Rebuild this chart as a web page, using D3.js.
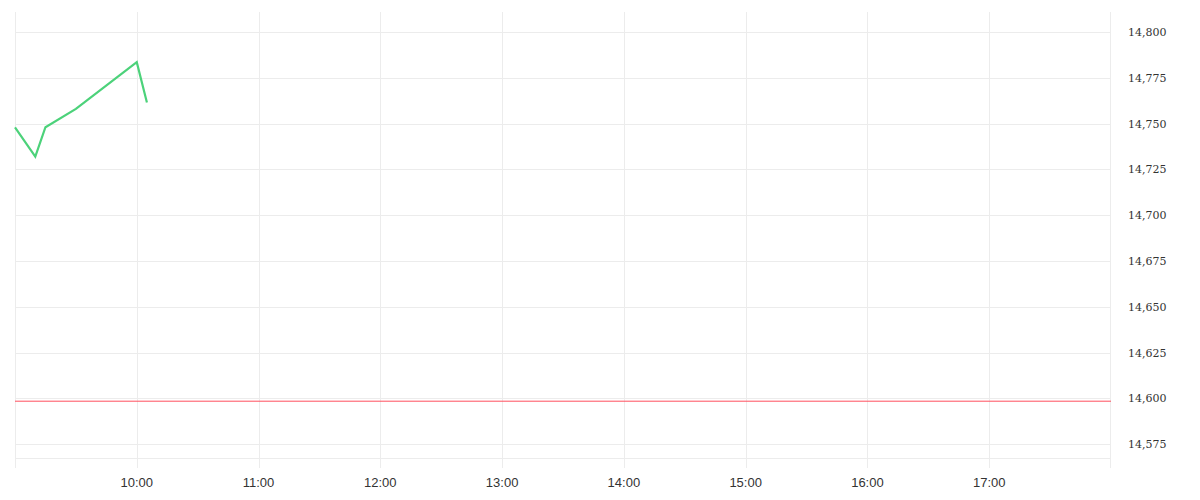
<!DOCTYPE html>
<html>
<head>
<meta charset="utf-8">
<script src="https://cdn.jsdelivr.net/npm/d3@7"></script>
<style>
  html, body { margin: 0; padding: 0; background: #fff; }
  svg { display: block; }
</style>
</head>
<body>
<svg id="chart" width="1200" height="500"></svg>
<script>
// ---- data ----
const times = ["09:00", "09:10", "09:15", "09:30", "10:00", "10:05"];
const prices = [14748, 14732, 14748, 14758, 14783.5, 14761.5];
const referencePrice = 14598.5;
const yTickValues = [14575, 14600, 14625, 14650, 14675, 14700, 14725, 14750, 14775, 14800];
const xTickLabels = ["10:00", "11:00", "12:00", "13:00", "14:00", "15:00", "16:00", "17:00"];
const sessionStart = "09:00";
const sessionEnd = "18:00";

// ---- setup ----
const parse = d3.timeParse("%H:%M");
const svg = d3.select("#chart");
const mLeft = 15, mRight = 1111, mTop = 12, mBottom = 458;

const x = d3.scaleTime()
  .domain([parse(sessionStart), parse(sessionEnd)])
  .range([mLeft, mRight]);
const y = d3.scaleLinear()
  .domain([14567.5, 14810.9])
  .range([mBottom, mTop]);

const gridColor = "#ececec";

// horizontal gridlines
svg.append("g")
  .selectAll("line")
  .data(yTickValues)
  .join("line")
  .attr("x1", mLeft).attr("x2", mRight)
  .attr("y1", d => Math.round(y(d)) + 0.5)
  .attr("y2", d => Math.round(y(d)) + 0.5)
  .attr("stroke", gridColor).attr("stroke-width", 1);

// bottom line
svg.append("line")
  .attr("x1", mLeft).attr("x2", mRight)
  .attr("y1", mBottom + 0.5).attr("y2", mBottom + 0.5)
  .attr("stroke", gridColor);

// vertical gridlines (incl. left edge), extending below as ticks
const xTickDates = xTickLabels.map(parse);
svg.append("g")
  .selectAll("line")
  .data([parse(sessionStart), ...xTickDates])
  .join("line")
  .attr("x1", d => Math.round(x(d)) + 0.5)
  .attr("x2", d => Math.round(x(d)) + 0.5)
  .attr("y1", mTop).attr("y2", mBottom + 10)
  .attr("stroke", gridColor);

// right axis line
svg.append("line")
  .attr("x1", 1110.5).attr("x2", 1110.5)
  .attr("y1", mTop).attr("y2", mBottom + 10)
  .attr("stroke", gridColor);

// x labels
svg.append("g")
  .selectAll("text")
  .data(xTickDates)
  .join("text")
  .attr("x", d => x(d))
  .attr("y", 487)
  .attr("text-anchor", "middle")
  .attr("font-family", "'Liberation Sans', Arial, sans-serif")
  .attr("font-size", 13)
  .attr("fill", "#333")
  .text(d => d3.timeFormat("%H:%M")(d));

// y labels
const fmt = d3.format(",");
svg.append("g")
  .selectAll("text")
  .data(yTickValues)
  .join("text")
  .attr("x", 1128)
  .attr("y", d => y(d))
  .attr("dy", "0.36em")
  .attr("font-family", "'DejaVu Serif', serif")
  .attr("font-size", 11)
  .attr("fill", "#333")
  .text(d => fmt(d));

// reference line
svg.append("line")
  .attr("x1", mLeft).attr("x2", mRight)
  .attr("y1", y(referencePrice)).attr("y2", y(referencePrice))
  .attr("stroke", "#ff4f5e").attr("stroke-width", 1);

// price line
const series = times.map((t, i) => ({ t: parse(t), v: prices[i] }));
svg.append("path")
  .datum(series)
  .attr("fill", "none")
  .attr("stroke", "#4cd27a")
  .attr("stroke-width", 2.2)
  .attr("stroke-linejoin", "miter")
  .attr("d", d3.line().x(d => x(d.t)).y(d => y(d.v)));
</script>
</body>
</html>
